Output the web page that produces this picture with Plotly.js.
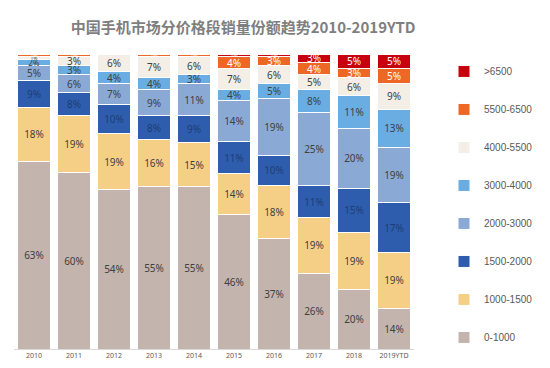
<!DOCTYPE html>
<html>
<head>
<meta charset="utf-8">
<script src="https://cdn.plot.ly/plotly-3.0.1.min.js"></script>
<style>html,body{margin:0;padding:0;background:#fff;}#chart{width:550px;height:368px;}</style>
</head>
<body>
<div id="chart"></div>
<script>
const years = ['2010','2011','2012','2013','2014','2015','2016','2017','2018','2019YTD'];
const seriesNames = ['0-1000','1000-1500','1500-2000','2000-3000','3000-4000','4000-5500','5500-6500','>6500'];
const s0_1000    = [63, 60, 54, 55, 55, 46, 37, 26, 20, 14];
const s1000_1500 = [18, 19, 19, 16, 15, 14, 18, 19, 19, 19];
const s1500_2000 = [9, 8, 10, 8, 9, 11, 10, 11, 15, 17];
const s2000_3000 = [5, 6, 7, 9, 11, 14, 19, 25, 20, 19];
const s3000_4000 = [2, 3, 4, 4, 3, 4, 5, 8, 11, 13];
const s4000_5500 = [1, 3, 6, 7, 6, 7, 6, 5, 6, 9];
const s5500_6500 = [1, 1, 0, 1, 1, 4, 3, 4, 3, 5];
const s6500plus  = [0, 0, 0, 0, 0, 1, 1, 3, 5, 5];

const seriesValues = [s0_1000, s1000_1500, s1500_2000, s2000_3000, s3000_4000, s4000_5500, s5500_6500, s6500plus];
const colors = ['#c4b4ae','#f6cf87','#2e5dad','#8aa9d5','#6aade3','#f3efe7','#ef6724','#c6000c'];
const textColors = ['#404040','#404040','#1e3d74','#404040','#404040','#404040','#ffffff','#ffffff'];

const traces = seriesNames.map((name, i) => ({
  type: 'bar',
  name: name,
  x: years,
  y: seriesValues[i],
  text: seriesValues[i].map(v => v > 0 ? v + '%' : ''),
  textposition: 'inside',
  insidetextanchor: 'middle',
  textangle: 0,
  constraintext: 'none',
  hoverinfo: 'x+y+name',
  textfont: {
    family: 'Noto Sans, sans-serif',
    size: seriesValues[i].map(v => v <= 1 ? 5 : (v === 2 ? 8 : 10)),
    color: textColors[i]
  },
  marker: {color: colors[i], line: {color: '#ffffff', width: 1}},
  legendgroup: 'g' + i,
  legendrank: 100 - i
}));

const layout = {
  width: 550,
  height: 368,
  margin: {l: 14, r: 74, t: 54, b: 19},
  paper_bgcolor: '#ffffff',
  plot_bgcolor: '#ffffff',
  barmode: 'stack',
  barnorm: 'percent',
  bargap: 0.16,
  title: {
    text: '<b>中国手机市场分价格段销量份额趋势2010-2019YTD</b>',
    font: {family: 'Noto Sans CJK SC, sans-serif', size: 15, color: '#7f7f7f'},
    x: 0.442, xanchor: 'center', y: 0.925, yanchor: 'middle'
  },
  xaxis: {
    type: 'category',
    showgrid: false,
    showline: true,
    linecolor: '#d9d9d9',
    linewidth: 1,
    ticks: '',
    tickfont: {family: 'Noto Sans, sans-serif', size: 7, color: '#595959'}
  },
  yaxis: {
    visible: false,
    range: [0, 100],
    showgrid: false
  },
  showlegend: true,
  legend: {
    x: 1.075, xanchor: 'left',
    y: 0.99, yanchor: 'top',
    traceorder: 'grouped',
    tracegroupgap: 19,
    font: {family: 'Liberation Sans, sans-serif', size: 10, color: '#595959'},
    itemwidth: 30,
    bgcolor: 'rgba(0,0,0,0)'
  }
};

Plotly.newPlot('chart', traces, layout, {displayModeBar: false, staticPlot: true});
</script>
</body>
</html>
